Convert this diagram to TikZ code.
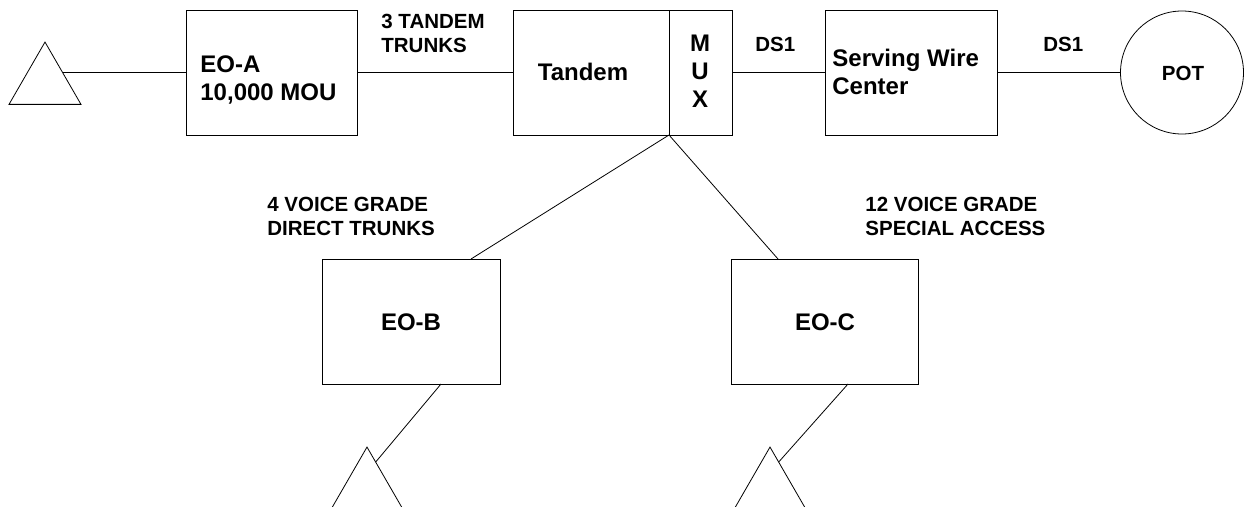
\documentclass[tikz,border=0pt]{standalone}
\usepackage{fontspec}
\setmainfont{Liberation Sans}
\usetikzlibrary{shapes.geometric}
\begin{document}
\begin{tikzpicture}[x=1pt,y=-1pt,
  line width=0.8pt,
  box/.style={draw,rectangle,minimum height=125pt,inner sep=0pt},
  tri/.style={draw,regular polygon,regular polygon sides=3,minimum size=83.1pt,inner sep=0pt},
  boxtext/.style={inner sep=0pt,font=\bfseries\fontsize{24}{28}\selectfont},
  lbl/.style={inner sep=0pt,anchor=base west,font=\bfseries\fontsize{20.5}{24}\selectfont}]
\useasboundingbox (0,0) rectangle (1244,506);
\begin{scope}
\clip (0,0) rectangle (1244,506);
% boxes
\node[box,minimum width=171pt] (eoa) at (271.5,72.5) {};
\node[box,minimum width=219pt] (tandem) at (622.5,72.5) {};
\draw (669,10) -- (669,135) coordinate (mux);
\node[box,minimum width=172pt] (swc) at (911,72.5) {};
\node[draw,circle,minimum size=123pt,inner sep=0pt] (pot) at (1182,72.5) {};
\node[box,minimum width=178pt] (eob) at (411,321.5) {};
\node[box,minimum width=187pt] (eoc) at (824.5,321.5) {};
% triangles
\node[tri] (triA) at (45,83.6) {};
\node[tri] (triB) at (367,488.6) {};
\node[tri] (triC) at (770,488.6) {};
\coordinate (ta) at (62.7,72.5);
\coordinate (tb) at (375.7,462);
\coordinate (tc) at (778.7,462);
% connectors
\draw (ta) -- (eoa.west);
\draw (eoa.east) -- (tandem.west);
\draw (tandem.east) -- (swc.west);
\draw (swc.east) -- (pot.west);
\draw (mux) -- (471,259) coordinate (eobtop);
\draw (mux) -- (778,259) coordinate (eoctop);
\draw (441,384) coordinate (eobbot) -- (tb);
\draw (848,384) coordinate (eocbot) -- (tc);
% box texts
\node[boxtext,anchor=base west] (ta1) at (200,72) {EO-A};
\node[boxtext,anchor=base west] (ta2) at (200,100) {10,000 MOU};
\node[boxtext,anchor=base] (tt) at (583,80) {Tandem};
\node[boxtext,anchor=base] (tm) at (700,51) {M};
\node[boxtext,anchor=base] (tu) at (700,79) {U};
\node[boxtext,anchor=base] (tx) at (700,107) {X};
\node[boxtext,anchor=base west] (ts1) at (832,66) {Serving Wire};
\node[boxtext,anchor=base west] (ts2) at (832,94) {Center};
\node[boxtext,anchor=base,font=\bfseries\fontsize{20.5}{24}\selectfont] (tp) at (1183,80) {POT};
\node[boxtext,anchor=base] (tb1) at (411,330.5) {EO-B};
\node[boxtext,anchor=base] (tc1) at (825,330.5) {EO-C};
% labels
\node[lbl] (l1a) at (381,28) {3 TANDEM};
\node[lbl] (l1b) at (381,52) {TRUNKS};
\node[lbl] (l2) at (755,51) {DS1};
\node[lbl] (l3) at (1043,51) {DS1};
\node[lbl] (l4a) at (267,211) {4 VOICE GRADE};
\node[lbl] (l4b) at (267,235) {DIRECT TRUNKS};
\node[lbl] (l5a) at (865,211) {12 VOICE GRADE};
\node[lbl] (l5b) at (865,235) {SPECIAL ACCESS};
\end{scope}
\end{tikzpicture}
\end{document}
